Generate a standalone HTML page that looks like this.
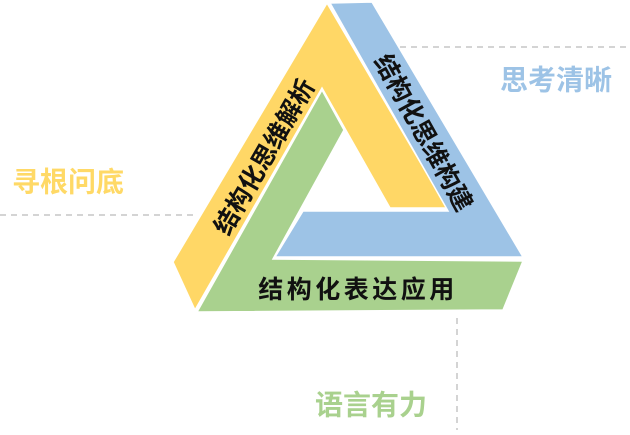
<!DOCTYPE html>
<html><head><meta charset="utf-8"><style>
body{margin:0;width:630px;height:430px;background:#fff;overflow:hidden}
</style></head><body>
<svg width="630" height="430" viewBox="0 0 630 430" xmlns="http://www.w3.org/2000/svg" font-family="Liberation Sans, Noto Sans CJK SC, sans-serif" font-weight="bold">
<g stroke="#aaa" stroke-width="1" stroke-dasharray="6,5" fill="none">
<line x1="0" y1="215" x2="196" y2="215"/>
<line x1="400" y1="47" x2="630" y2="47"/>
<line x1="457" y1="318" x2="457" y2="430"/>
</g>
<polygon points="327,3 447,208 390,208 322,88 195,310 173,262" fill="#FFD766" stroke="#fff" stroke-width="1.5"/>
<polygon points="330,3 372,2 523,257 275,257 303,211 448,211" fill="#9DC3E6" stroke="#fff" stroke-width="1.5"/>
<polygon points="322,90 344,130 273,259 523,261 503,310 197,312" fill="#A9D18E" stroke="#fff" stroke-width="1.5"/>
<text x="265" y="157" font-size="25" text-anchor="middle" dominant-baseline="central" transform="rotate(-60 265 157)" fill="#111">结构化思维解析</text>
<text x="423" y="133" font-size="25" text-anchor="middle" dominant-baseline="central" transform="rotate(61 423 133)" fill="#111">结构化思维构建</text>
<text x="358" y="290" font-size="25" text-anchor="middle" dominant-baseline="central" fill="#111" letter-spacing="3.5">结构化表达应用</text>
<text x="12" y="182" font-size="28" dominant-baseline="central" fill="#FFD966">寻根问底</text>
<text x="500" y="80" font-size="28" dominant-baseline="central" fill="#9DC3E6">思考清晰</text>
<text x="315" y="405" font-size="28" dominant-baseline="central" fill="#A9D18E">语言有力</text>
</svg>
</body></html>
